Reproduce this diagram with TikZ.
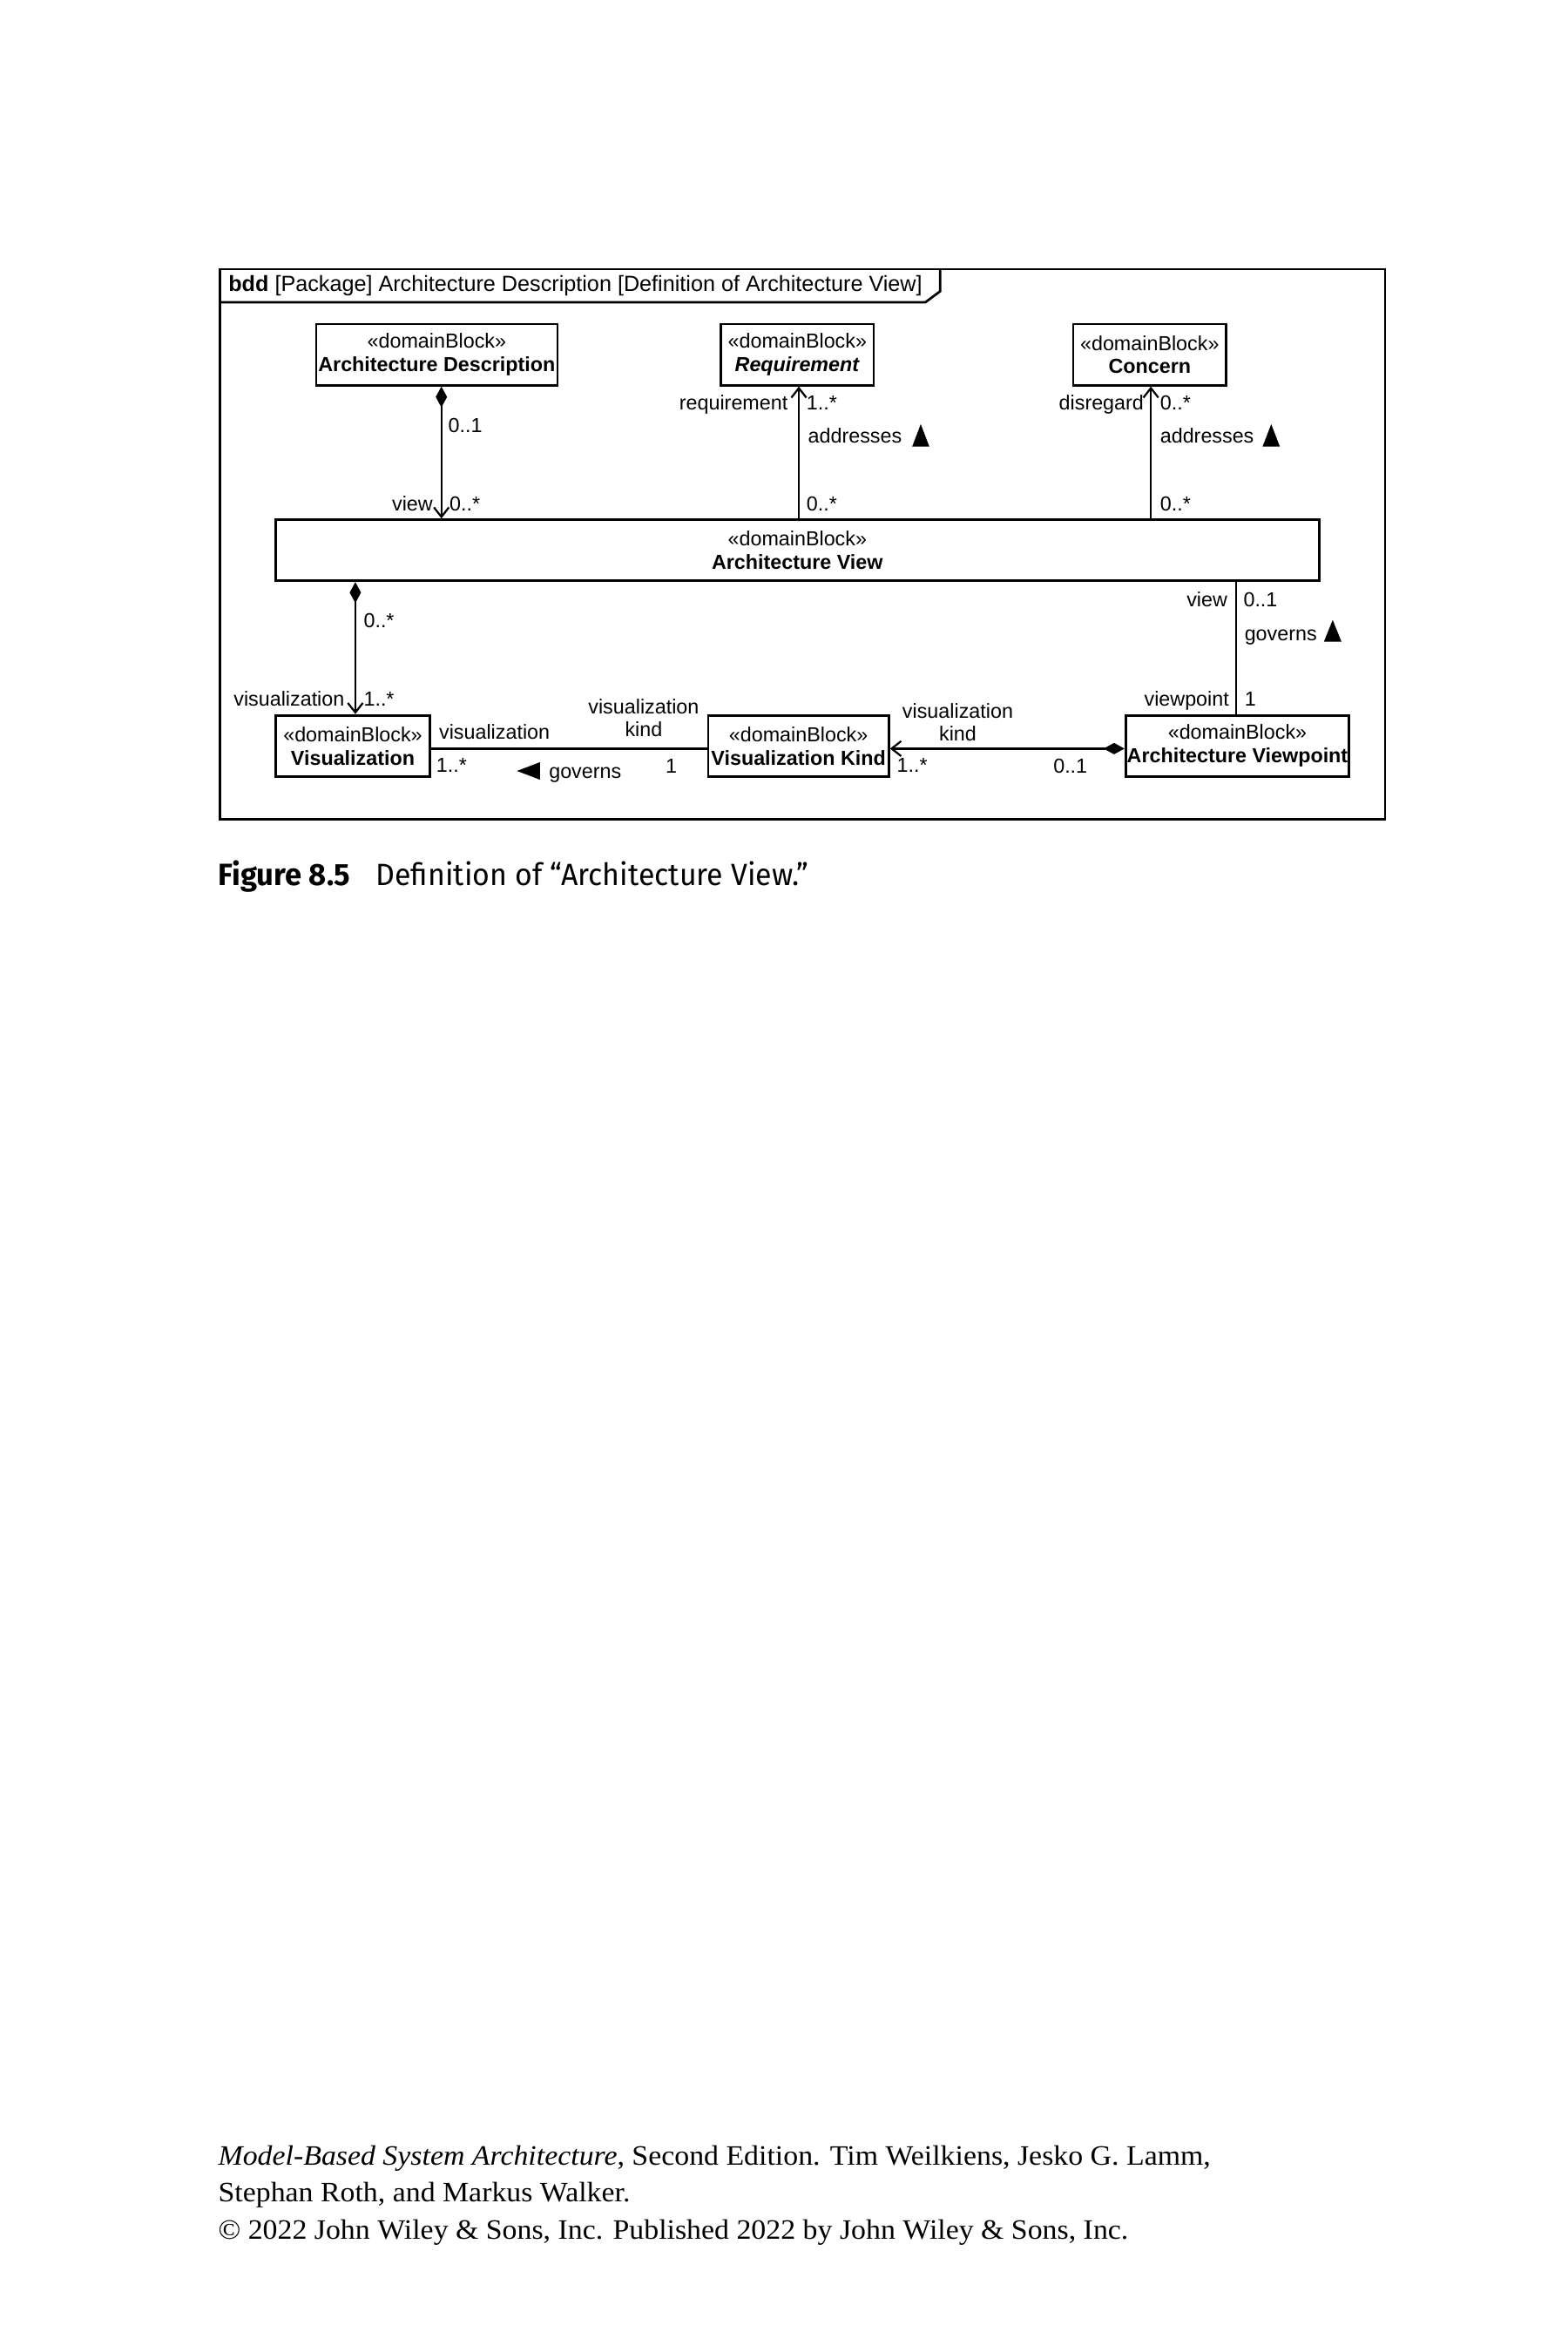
\documentclass[tikz,border=0pt]{standalone}
\usepackage{fontspec}
\setmainfont{Liberation Sans}
\newfontfamily\capfont[FakeStretch=0.96]{Fira Sans}
\newfontfamily\capbfont[FakeStretch=0.98]{Fira Sans Bold}
\newfontfamily\footfont[FakeStretch=1.05]{Liberation Serif}
\usetikzlibrary{arrows.meta}
\tikzset{
  blk/.style={draw, line width=0.8pt, inner sep=0pt, align=center, font=\fontsize{6.8}{7.8}\selectfont, minimum height=20.5pt},
  conn/.style={line width=0.65pt},
  lbl/.style={inner sep=0pt, font=\fontsize{6.8}{7.8}\selectfont},
  obarb/.tip={Straight Barb[length=3.2pt,width=5pt]},
  cdiam/.tip={Diamond[length=7pt,width=3.8pt]},
  capt/.style={inner sep=0pt, anchor=base west, font=\capfont\fontsize{10.3}{12}\selectfont},
  foot/.style={inner sep=0pt, anchor=base west, font=\footfont\fontsize{9.4}{12}\selectfont},
}
\begin{document}
\begin{tikzpicture}[x=0.5pt,y=-0.5pt]
\path[use as bounding box] (0,0) rectangle (1050,1575);
\begin{scope}[x=0.502pt, xshift=0.408pt]
% frame
\draw[line width=0.8pt] (146,180.3) rectangle (923,548.5);
\node[anchor=base west, inner sep=0pt, font=\fontsize{7.35}{8}\selectfont] (title) at (151.2,195) {\textbf{bdd} [Package] Architecture Description [Definition of Architecture View]};
\draw[line width=0.8pt] (146,202.4) -- (616.4,202.4) -- (626.3,195) -- (626.3,180.3);
% blocks
\node[blk, minimum width=80.8pt] (ad) at (290.5,237.5) {«domainBlock»\\\textbf{Architecture Description}};
\node[blk, minimum width=51.2pt] (req) at (531,237.5) {«domainBlock»\\\textbf{\itshape Requirement}};
\node[blk, minimum width=51.2pt] (con) at (766,237.5) {«domainBlock»\\\textbf{Concern}};
\node[blk, minimum width=349.4pt] (av) at (531,368.5) {«domainBlock»\\\textbf{Architecture View}};
\node[blk, minimum width=51.7pt] (vis) at (234.5,499.5) {«domainBlock»\\\textbf{Visualization}};
\node[blk, minimum width=60.5pt] (vk) at (531.75,499.5) {«domainBlock»\\\textbf{Visualization Kind}};
\node[blk, minimum width=74.8pt] (vp) at (824.5,499.5) {«domainBlock»\\\textbf{Architecture Viewpoint}};
% connectors
\coordinate (c1) at ([xshift=1.55pt]ad.south);
\draw[conn, cdiam-obarb] (c1) -- (c1 |- av.north);
\coordinate (c2) at ([xshift=0.5pt]req.south);
\draw[conn, -obarb] (c2 |- av.north) -- (c2);
\coordinate (c3) at ([xshift=0.4pt]con.south);
\draw[conn, -obarb] (c3 |- av.north) -- (c3);
\coordinate (c4) at ([xshift=0.85pt]vis.north);
\draw[conn, cdiam-obarb] (c4 |- av.south) -- (c4);
\coordinate (c5) at ([xshift=-0.4pt]vp.north);
\draw[conn] (c5 |- av.south) -- (c5);
\coordinate (c6) at ([yshift=-0.9pt]vis.east);
\draw[conn] (c6) -- (c6 -| vk.west);
\coordinate (c7) at ([yshift=-0.9pt]vp.west);
\draw[conn, cdiam-obarb] (c7) -- (c7 -| vk.east);
% labels AD-AV
\node[lbl, anchor=base west] (l1) at (297.8,289.7) {0..1};
\node[lbl, anchor=base east] (l2) at (288.2,342.2) {view};
\node[lbl, anchor=base west] (l3) at (298.7,342.2) {0..*};
% Req-AV
\node[lbl, anchor=base east] (l4) at (525,274.2) {requirement};
\node[lbl, anchor=base west] (l5) at (536.8,274.2) {1..*};
\node[lbl, anchor=base west] (l6) at (537.8,296.5) {addresses};
\fill (607.6,299) -- (619,299) -- (613.3,284) -- cycle;
\node[lbl, anchor=base west] (l7) at (536.8,342.2) {0..*};
% Concern-AV
\node[lbl, anchor=base east] (l8) at (762.4,274.2) {disregard};
\node[lbl, anchor=base west] (l9) at (772.6,274.2) {0..*};
\node[lbl, anchor=base west] (l10) at (772.6,296.5) {addresses};
\fill (841.3,299) -- (852.8,299) -- (847.05,284) -- cycle;
\node[lbl, anchor=base west] (l11) at (772.6,342.2) {0..*};
% AV-Vis
\node[lbl, anchor=base west] (l12) at (241.4,420) {0..*};
\node[lbl, anchor=base east] (l13) at (229.3,472.9) {visualization};
\node[lbl, anchor=base west] (l14) at (241.4,472.9) {1..*};
% AV-VP
\node[lbl, anchor=base east] (l15) at (818.2,406.4) {view};
\node[lbl, anchor=base west] (l16) at (828.2,406.4) {0..1};
\node[lbl, anchor=base west] (l17) at (828.9,429.1) {governs};
\fill (882.2,429.7) -- (893.9,429.7) -- (888.05,415.1) -- cycle;
\node[lbl, anchor=base east] (l18) at (819.3,472.9) {viewpoint};
\node[lbl, anchor=base west] (l19) at (828.9,472.9) {1};
% Vis-VK
\node[lbl, anchor=base west] (l20) at (291.7,494.9) {visualization};
\node[lbl, anchor=base west] (l21) at (289.8,517.2) {1..*};
\fill (344,516.25) -- (359.3,510.4) -- (359.3,522.1) -- cycle;
\node[lbl, anchor=base west] (l22) at (365,521.1) {governs};
\node[lbl, anchor=south, align=center] (l23) at (428.5,493.9) {visualization\\kind};
\node[lbl, anchor=base west] (l24) at (442.7,517.6) {1};
% VK-VP
\node[lbl, anchor=south, align=center] (l25) at (638,496.8) {visualization\\kind};
\node[lbl, anchor=base west] (l26) at (597,517.2) {1..*};
\node[lbl, anchor=base west] (l27) at (701.4,517.5) {0..1};
\end{scope}
% caption
\node[capt, font=\capbfont\fontsize{10.3}{12}\selectfont] (fig) at (145.8,592.8) {Figure 8.5};
\node[capt] (captxt) at (251.4,592.8) {Definition of “Architecture View.”};
% footer
\node[foot] (f1) at (145.8,1449.6) {\textit{Model-Based System Architecture}, Second Edition. Tim Weilkiens, Jesko G. Lamm,};
\node[foot] (f2) at (145.8,1474.4) {Stephan Roth, and Markus Walker.};
\node[foot] (f3) at (145.8,1499.2) {© 2022 John Wiley \& Sons, Inc. Published 2022 by John Wiley \& Sons, Inc.};
\end{tikzpicture}
\end{document}
